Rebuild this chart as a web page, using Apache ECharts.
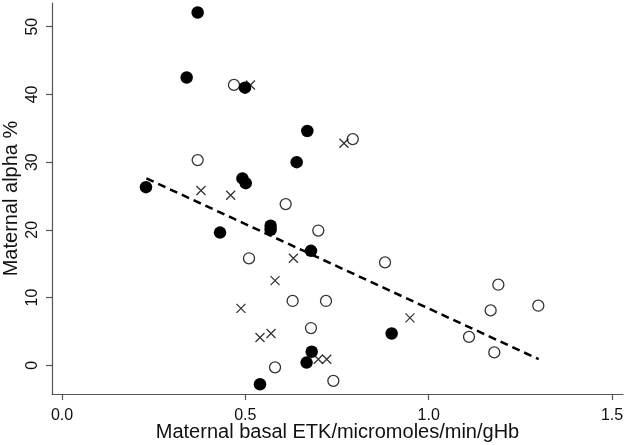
<!DOCTYPE html>
<html>
<head>
<meta charset="utf-8">
<script src="https://cdn.jsdelivr.net/npm/echarts@6/dist/echarts.min.js"></script>
<style>
html,body{margin:0;padding:0;background:#fff;}
#chart{width:626px;height:445px;}
</style>
</head>
<body>
<div id="chart"></div>
<script>
// Filled circles
var filledX = [0.370, 0.340, 0.499, 0.669, 0.640, 0.492, 0.501, 0.229, 0.431, 0.569, 0.569, 0.679, 0.681, 0.667, 0.540, 0.899];
var filledY = [52.1, 42.5, 41.0, 34.6, 30.0, 27.6, 26.9, 26.3, 19.6, 20.6, 20.0, 16.9, 2.0, 0.4, -2.8, 4.7];
// Hollow circles
var hollowX = [0.469, 0.370, 0.793, 0.610, 0.699, 0.510, 0.881, 0.629, 0.720, 0.679, 0.581, 0.740, 1.190, 1.169, 1.299, 1.110, 1.179];
var hollowY = [41.4, 30.3, 33.4, 23.8, 19.9, 15.8, 15.2, 9.5, 9.5, 5.5, -0.3, -2.3, 11.9, 8.1, 8.8, 4.2, 1.9];
// Crosses
var crossX = [0.514, 0.769, 0.379, 0.460, 0.631, 0.581, 0.488, 0.540, 0.570, 0.699, 0.722, 0.949];
var crossY = [41.4, 32.8, 25.8, 25.1, 15.8, 12.5, 8.4, 4.1, 4.7, 0.9, 0.9, 7.0];
// Fitted line end points
var fitX = [0.23, 1.30];
var fitY = [27.6, 0.9];
// Ticks
var xTicks = [0, 0.5, 1.0, 1.5];
var yTicks = [0, 10, 20, 30, 40, 50];

function pairs(xs, ys) { return xs.map(function (x, i) { return [x, ys[i]]; }); }

var font = 'Liberation Sans, Arial, Helvetica, sans-serif';
var axisColor = '#555';
var textColor = '#111';

var chart = echarts.init(document.getElementById('chart'), null, {renderer: 'canvas'});
chart.setOption({
  backgroundColor: '#fff',
  animation: false,
  grid: {left: 52, right: 3, top: 3, bottom: 51, containLabel: false, outerBoundsMode: 'none'},
  xAxis: {
    type: 'value', min: -0.0273, max: 1.530,
    name: 'Maternal basal ETK/micromoles/min/gHb',
    nameLocation: 'middle', nameGap: 28, nameMoveOverlap: false,
    nameTextStyle: {fontFamily: font, fontSize: 20, color: textColor},
    axisLine: {show: true, onZero: false, lineStyle: {color: axisColor, width: 1.2}},
    axisTick: {show: true, length: 6, customValues: xTicks, lineStyle: {color: axisColor, width: 1.2}},
    axisLabel: {customValues: xTicks, margin: 14, fontFamily: font, fontSize: 16, color: textColor,
      formatter: function (v) { return v.toFixed(1); }},
    splitLine: {show: false}
  },
  yAxis: {
    type: 'value', min: -4.24, max: 53.5,
    name: 'Maternal alpha %',
    nameLocation: 'middle', nameGap: 31, nameMoveOverlap: false,
    nameTextStyle: {fontFamily: font, fontSize: 20, color: textColor},
    axisLine: {show: true, onZero: false, lineStyle: {color: axisColor, width: 1.2}},
    axisTick: {show: true, length: 6, customValues: yTicks, lineStyle: {color: axisColor, width: 1.2}},
    axisLabel: {customValues: yTicks, rotate: 90, margin: 11, fontFamily: font, fontSize: 16, color: textColor},
    splitLine: {show: false}
  },
  series: [
    {
      type: 'line', data: pairs(fitX, fitY), symbol: 'none', z: 1,
      lineStyle: {color: '#000', width: 2.5, type: [8, 5]}
    },
    {
      type: 'scatter', data: pairs(hollowX, hollowY), symbol: 'circle', symbolSize: 11, z: 2,
      itemStyle: {color: 'rgba(255,255,255,0)', borderColor: '#000', borderWidth: 1.3}
    },
    {
      type: 'scatter', data: pairs(crossX, crossY), symbol: 'path://M0,0L10,10M10,0L0,10', symbolSize: 9, z: 3,
      itemStyle: {color: 'none', borderColor: '#000', borderWidth: 1.3}
    },
    {
      type: 'scatter', data: pairs(filledX, filledY), symbol: 'circle', symbolSize: 12.5, z: 4,
      itemStyle: {color: '#000', opacity: 1}
    }
  ]
});
</script>
</body>
</html>
